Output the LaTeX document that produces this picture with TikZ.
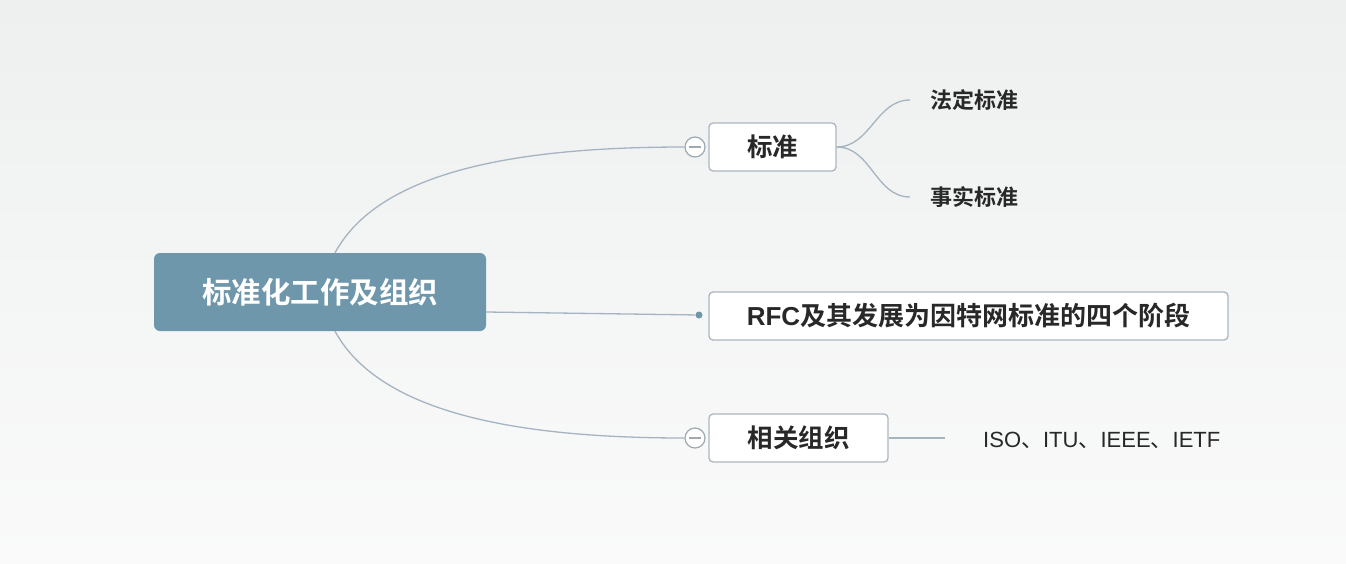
\documentclass[tikz,border=0pt]{standalone}
\usepackage{fontspec}
\setmainfont{Noto Sans CJK SC}
\newfontfamily\cjkbold{Noto Sans CJK SC Bold}
\newfontfamily\latin{Liberation Sans}
\definecolor{rootblue}{RGB}{111,151,171}
\definecolor{linegray}{RGB}{165,180,192}
\definecolor{boxgray}{RGB}{172,182,192}
\definecolor{bgtop}{RGB}{238,240,240}
\definecolor{bgbot}{RGB}{250,250,250}
\definecolor{textdark}{RGB}{40,40,40}
\begin{document}
\begin{tikzpicture}[x=1pt, y=-1pt,
		root/.style={rectangle, rounded corners=6pt, fill=rootblue, text=white, minimum width=332pt, minimum height=78pt, font=\cjkbold\fontsize{29.5}{32}\selectfont},
		topic/.style={rectangle, rounded corners=4pt, draw=boxgray, line width=1.3pt, fill=white, text=textdark, minimum height=48pt, font=\cjkbold\fontsize{25.5}{28}\selectfont},
		leaf/.style={text=textdark, inner sep=0pt, font=\cjkbold\fontsize{22}{24}\selectfont},
		collapse/.style={circle, draw=linegray!80!gray, line width=1.2pt, fill=white, minimum size=20pt, inner sep=0pt},
		minus/.style={draw=linegray!80!gray, line width=1.2pt},
		link/.style={draw=linegray, line width=1.3pt}]

	\useasboundingbox[shade, top color=bgtop, bottom color=bgbot] (0,0) rectangle (1346,563);

	\node[root] (root) at (320, 292) {标准化工作及组织};

	\node[topic, minimum width=127pt] (std) at (772.5, 147) {标准};
	\node[topic, minimum width=519pt, font=\cjkbold\fontsize{26}{28}\selectfont] (rfc) at (968.5, 316) {{\latin\bfseries RFC}及其发展为因特网标准的四个阶段};
	\node[topic, minimum width=179pt] (org) at (798.5, 438) {相关组织};

	\node[leaf, anchor=west] (legal) at (930, 100) {法定标准};
	\node[leaf, anchor=west] (fact) at (930, 197) {事实标准};
	\node[anchor=west, inner sep=0pt, text=textdark, font=\fontsize{22}{24}\selectfont] (orgs) at (983, 440) {{\latin ISO}、{\latin ITU}、{\latin IEEE}、{\latin IETF}};

	\coordinate (legalend) at (910, 100);
	\coordinate (factend) at (910, 197);
	\coordinate (orgsend) at (945, 438);

	% main branches
	\node[collapse] (stdcol) at (695, 147) {};
	\node[collapse] (orgcol) at (695, 438) {};
	\node[circle, fill=rootblue, minimum size=7pt, inner sep=0pt] (rfcdot) at (699, 315) {};

	\draw[link] ([xshift=15pt]root.north) .. controls (380, 170) and (520, 147) .. (stdcol.west);
	\draw[link] ([xshift=15pt]root.south) .. controls (380, 414) and (520, 438) .. (orgcol.west);
	\draw[link] ([yshift=-20pt]root.east) -- (rfcdot);
	\draw[minus] ([xshift=-6pt]stdcol.center) -- ([xshift=6pt]stdcol.center);
	\draw[minus] ([xshift=-6pt]orgcol.center) -- ([xshift=6pt]orgcol.center);

	% sub branches
	\draw[link] (std.east) to[out=0, in=180] (legalend);
	\draw[link] (std.east) to[out=0, in=180] (factend);
	\draw[link] (org.east) -- (orgsend);
\end{tikzpicture}
\end{document}
